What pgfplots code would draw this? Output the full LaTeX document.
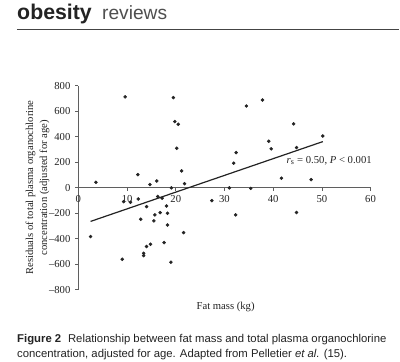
\documentclass[border=0pt]{standalone}
\usepackage{fontspec}
\setmainfont{Liberation Serif}
\newfontfamily\capsans{Liberation Sans}
\usepackage{pgfplots}
\pgfplotsset{compat=1.18}
\definecolor{ink}{RGB}{35,35,35}
\definecolor{axc}{RGB}{95,95,95}
\newcommand{\plotfont}{\fontsize{8}{10}\selectfont}
\begin{document}
\begin{tikzpicture}
\begin{scope}[x=0.75pt,y=-0.75pt]
\fill[white] (0,0) rectangle (400,362);
\node[anchor=base west, inner sep=0, font=\capsans\bfseries\fontsize{16}{18}\selectfont, text=ink] at (17,19.5) {obesity};
\node[anchor=base west, inner sep=0, font=\capsans\fontsize{14.4}{17}\selectfont, text=ink!80] at (102,19.5) {reviews};
\draw[ink!85, line width=0.8pt] (17,30) -- (400,30);
\node[anchor=base west, inner sep=0, font=\capsans\fontsize{8.5}{10}\selectfont, text=ink] at (17,343) {\textbf{Figure 2}\hspace{0.6em}Relationship between fat mass and total plasma organochlorine};
\node[anchor=base west, inner sep=0, font=\capsans\fontsize{8.5}{10}\selectfont, text=ink] at (17,358) {concentration, adjusted for age. Adapted from Pelletier \textit{et al.} (15).};
\end{scope}
\begin{axis}[
  at={(58.875pt,-217.5pt)}, anchor=south west,
  scale only axis, width=219.4pt, height=153.2pt,
  xmin=0, xmax=60, ymin=-800, ymax=800,
  axis x line=middle, axis y line=left,
  axis line style={-, draw=axc, line width=0.6pt},
  xtick={0,10,20,30,40,50,60}, xticklabels={0,10,20,30,40,50,60},
  ytick={-800,-600,-400,-200,0,200,400,600,800},
  yticklabels={\textendash800,\textendash600,\textendash400,\textendash200,0,200,400,600,800},
  tick align=outside, major tick length=2.5pt,
  tick style={draw=axc, line width=0.5pt},
  hide obscured x ticks=false, hide obscured y ticks=false,
  ticklabel style={font=\plotfont, text=ink},
  xlabel={Fat mass (kg)},
  ylabel={Residuals of total plasma organochlorine\\concentration (adjusted for age)},
  xlabel style={at={(axis description cs:0.504,-0.087)}, anchor=center, font=\plotfont, text=ink},
  ylabel style={at={(axis description cs:-0.14,0.5)}, anchor=center, align=center, font=\fontsize{8}{10.5}\selectfont, text=ink},
]
\addplot[only marks, mark=*, mark size=1.1pt, draw=ink, fill=ink] coordinates {
(2.5,-384) (3.6,42) (9.0,-562) (9.3,-110) (9.6,712) (10.7,-115)
(12.2,102) (12.3,-89) (12.8,-248) (13.4,-515) (13.4,-533) (14.0,-149)
(14.0,-462) (14.7,24) (14.8,-444) (15.5,-261) (15.7,-214) (16.1,52)
(16.3,-70) (16.8,-196) (17.2,-83) (17.6,-431) (18.1,-144) (18.3,-201)
(18.3,-293) (19.0,-585) (19.1,-2) (19.5,706) (19.8,518) (20.5,497)
(20.2,309) (21.2,131) (21.8,31) (21.6,-353) (27.4,-102) (31.0,-2)
(31.9,192) (32.4,275) (32.3,-214) (34.5,640) (35.4,-6) (37.8,687)
(39.1,364) (39.6,304) (41.7,74) (44.2,500) (44.8,314) (44.8,-195)
(47.8,63) (50.2,405)
};
\addplot[ink, line width=0.9pt] coordinates {(2.5,-265) (50.2,361)};
\node[font=\plotfont, text=ink] at (axis cs:51.5,212) {\textit{r}\textsubscript{s} = 0.50, \textit{P} < 0.001};
\end{axis}
\end{tikzpicture}
\end{document}
